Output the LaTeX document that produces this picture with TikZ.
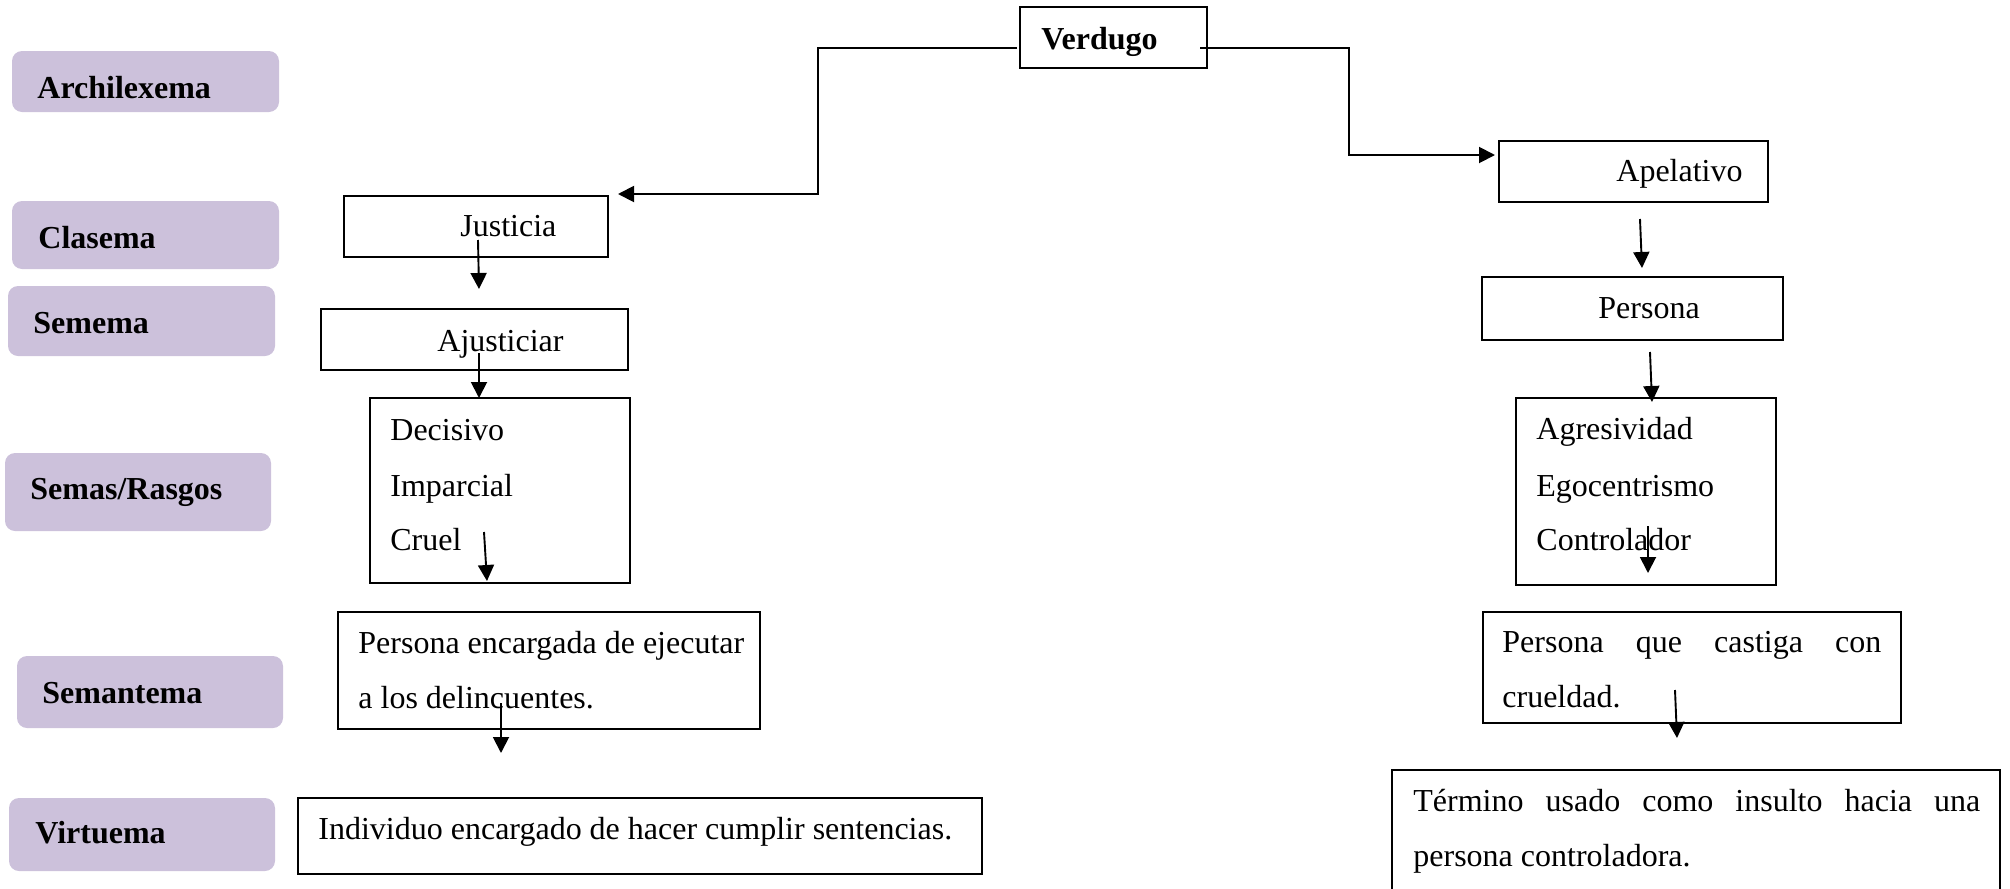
\documentclass[tikz,border=0pt]{standalone}
\usepackage{fontspec}
\setmainfont{Liberation Serif}
\usetikzlibrary{arrows.meta,fit}
\definecolor{lav}{RGB}{204,193,219}

\begin{document}
\begin{tikzpicture}[x=0.5pt,y=-0.5pt,
  font=\fontsize{16}{20}\selectfont,
  level/.style={fill=lav, draw=none, rounded corners=5pt, inner sep=0pt},
  box/.style={draw=black, line width=0.65pt, inner sep=0pt},
  lbl/.style={anchor=base west, inner sep=0pt, font=\fontsize{16}{20}\selectfont\bfseries},
  txt/.style={anchor=base west, inner sep=0pt},
  conn/.style={line width=0.95pt, -{Triangle[length=8pt,width=8pt]}},
]
\useasboundingbox (0,0) rectangle (2010,889);
\clip (0,0) rectangle (2010,889);

% level labels on the left
\node[level, fit={(12,51)(279,112)}]  (archi) {};
\node[lbl] (archiT) at (37,98) {Archilexema};
\node[level, fit={(12,201)(279,269)}] (clas) {};
\node[lbl] (clasT) at (38,248) {Clasema};
\node[level, fit={(8,286)(275,356)}]  (seme) {};
\node[lbl] (semeT) at (33,333) {Semema};
\node[level, fit={(5,453)(271,531)}]  (rasg) {};
\node[lbl] (rasgT) at (30,499) {Semas/Rasgos};
\node[level, fit={(17,656)(283,728)}] (sant) {};
\node[lbl] (santT) at (42,703) {Semantema};
\node[level, fit={(9,798)(275,871)}]  (virt) {};
\node[lbl] (virtT) at (35,843) {Virtuema};

% root
\node[box, fit={(1020,7)(1207,68)}] (verd) {};
\node[lbl] (verdT) at (1041,49) {Verdugo};

% left branch
\node[box, fit={(344,196)(608,257)}] (jus) {};
\node[txt] (jusT) at (460,236) {Justicia};
\node[box, fit={(321,309)(628,370)}] (aju) {};
\node[txt] (ajuT) at (437,351) {Ajusticiar};
\node[box, fit={(370,398)(630,583)}] (rl) {};
\node[txt] (rl1) at (390,440) {Decisivo};
\node[txt] (rl2) at (390,496) {Imparcial};
\node[txt] (rl3) at (390,550) {Cruel};
\node[box, fit={(338,612)(760,729)}] (sl) {};
\node[txt] (sl1) at (358,653) {Persona encargada de ejecutar};
\node[txt] (sl2) at (358,708) {a los delincuentes.};
\node[box, fit={(298,798)(982,874)}] (vl) {};
\node[txt] (vl1) at (318,839) {Individuo encargado de hacer cumplir sentencias.};

% right branch
\node[box, fit={(1499,141)(1768,202)}] (ape) {};
\node[txt] (apeT) at (1616,181) {Apelativo};
\node[box, fit={(1482,277)(1783,340)}] (per) {};
\node[txt] (perT) at (1598,318) {Persona};
\node[box, fit={(1516,398)(1776,585)}] (rr) {};
\node[txt] (rr1) at (1536,439) {Agresividad};
\node[txt] (rr2) at (1536,496) {Egocentrismo};
\node[txt] (rr3) at (1536,550) {Controlador};
\node[box, fit={(1483,612)(1901,723)}] (sr) {};
\node[txt] (sr1) at (1502,652) {\hbox to 189.5pt{Persona\hfill que\hfill castiga\hfill con}};
\node[txt] (sr2) at (1502,707) {crueldad.};
\node[box, fit={(1392,770)(2000,905)}] (vr) {};
\node[txt] (vr1) at (1413,811) {\hbox to 283.5pt{Término\hfill usado\hfill como\hfill insulto\hfill hacia\hfill una}};
\node[txt] (vr2) at (1413,866) {persona controladora.};

% connector end points
\coordinate (vL) at (1017,48);
\coordinate (eL) at (818,194);
\coordinate (jIn) at (618,194);
\coordinate (vR) at (1200,48);
\coordinate (eR) at (1349,155);
\coordinate (aIn) at (1495,155);

\coordinate (a1s) at (478,240);  \coordinate (a1e) at (479,289);
\coordinate (a2s) at (479,353);  \coordinate (a2e) at (479,398);
\coordinate (a3s) at (484,532);  \coordinate (a3e) at (487,581);
\coordinate (a4s) at (501,703);  \coordinate (a4e) at (501,753);
\coordinate (b1s) at (1640,219); \coordinate (b1e) at (1642,268);
\coordinate (b2s) at (1650,352); \coordinate (b2e) at (1652,402);
\coordinate (b3s) at (1648,526); \coordinate (b3e) at (1648,573);
\coordinate (b4s) at (1675,690); \coordinate (b4e) at (1677,738);

% connectors
\draw[conn] (vL) -| (eL) -- (jIn);
\draw[conn] (vR) -| (eR) -- (aIn);
\foreach \s/\e in {a1s/a1e,a2s/a2e,a3s/a3e,a4s/a4e,b1s/b1e,b2s/b2e,b3s/b3e,b4s/b4e}
  \draw[conn] (\s) -- (\e);
\end{tikzpicture}
\end{document}
